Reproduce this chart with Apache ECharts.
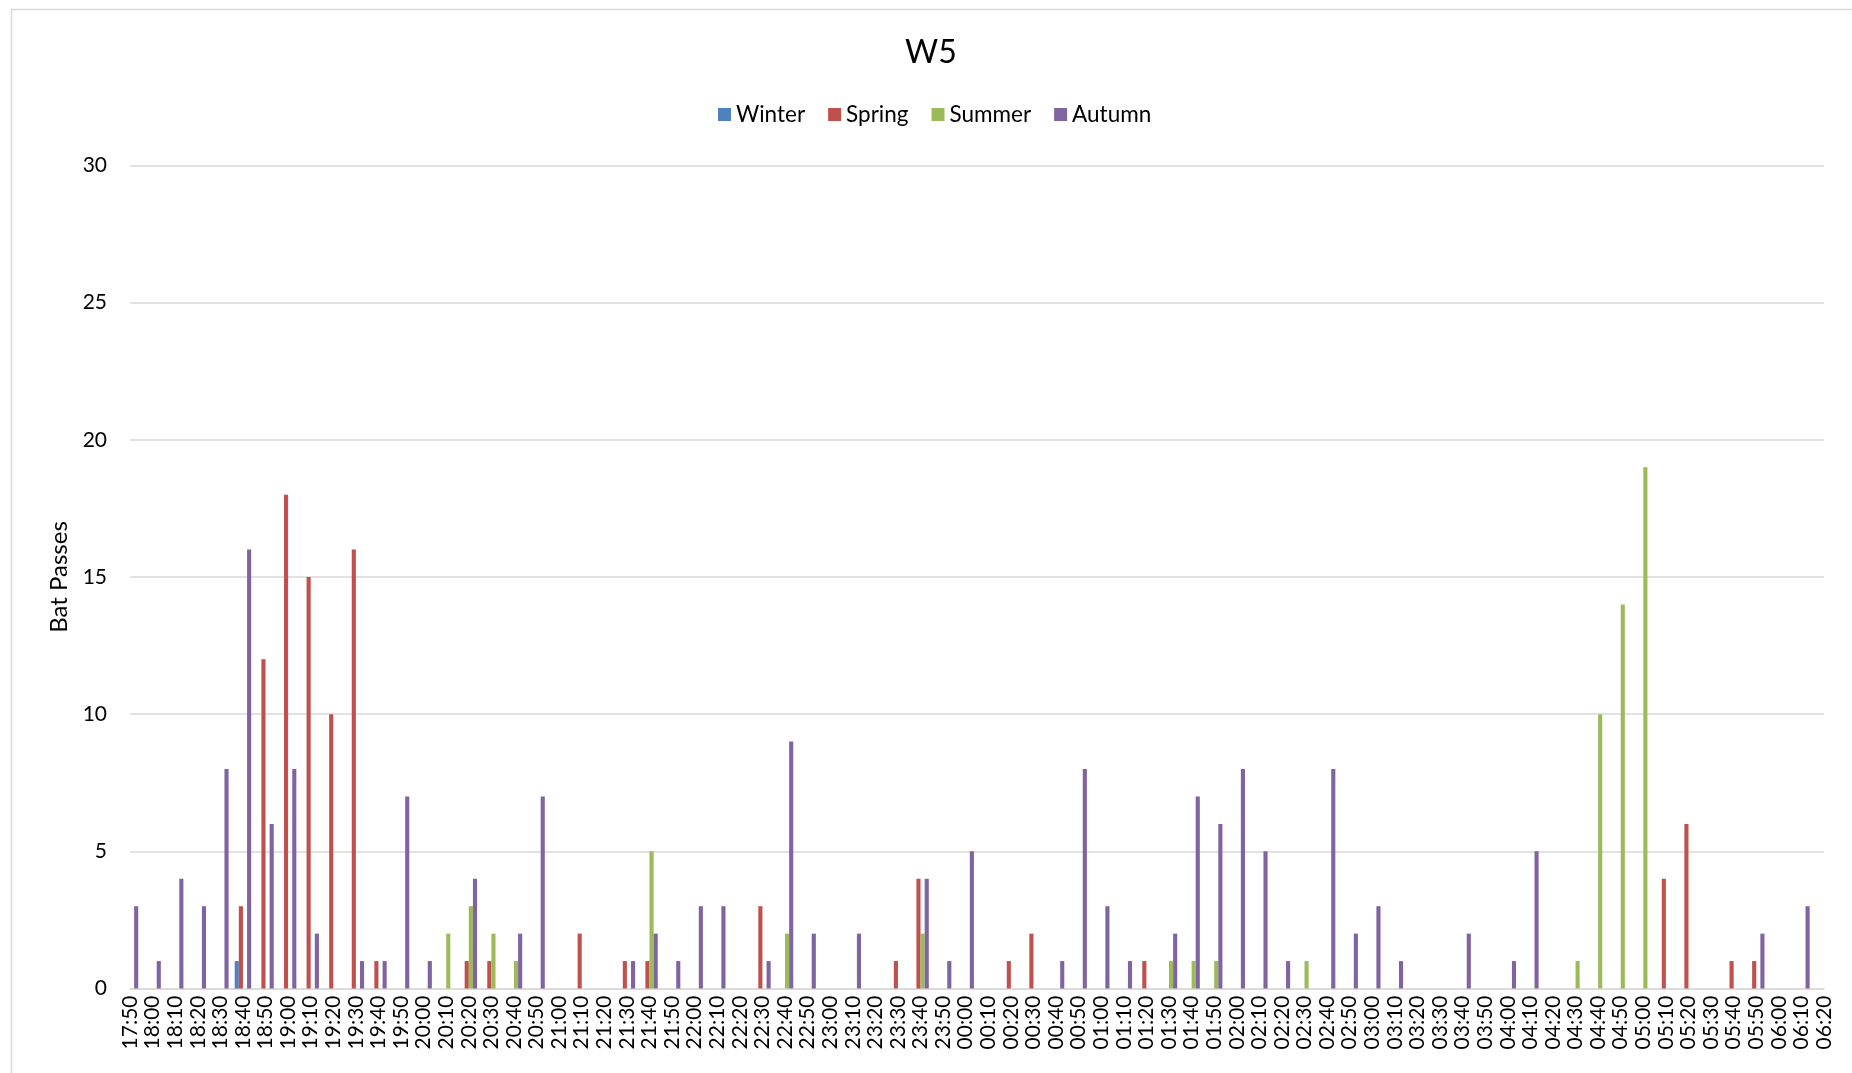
<!DOCTYPE html>
<html>
<head>
<meta charset="utf-8">
<script src="https://cdn.jsdelivr.net/npm/echarts@6/dist/echarts.min.js"></script>
<style>
html,body{margin:0;padding:0;background:#fff;}
#chart{width:1852px;height:1073px;}
</style>
</head>
<body>
<div id="chart"></div>
<script>
const categories = ["17:50","18:00","18:10","18:20","18:30","18:40","18:50","19:00","19:10","19:20",
"19:30","19:40","19:50","20:00","20:10","20:20","20:30","20:40","20:50","21:00",
"21:10","21:20","21:30","21:40","21:50","22:00","22:10","22:20","22:30","22:40",
"22:50","23:00","23:10","23:20","23:30","23:40","23:50","00:00","00:10","00:20",
"00:30","00:40","00:50","01:00","01:10","01:20","01:30","01:40","01:50","02:00",
"02:10","02:20","02:30","02:40","02:50","03:00","03:10","03:20","03:30","03:40",
"03:50","04:00","04:10","04:20","04:30","04:40","04:50","05:00","05:10","05:20",
"05:30","05:40","05:50","06:00","06:10","06:20"];

const winter = [0,0,0,0,0,1,0,0,0,0, 0,0,0,0,0,0,0,0,0,0, 0,0,0,0,0,0,0,0,0,0, 0,0,0,0,0,0,0,0,0,0,
0,0,0,0,0,0,0,0,0,0, 0,0,0,0,0,0,0,0,0,0, 0,0,0,0,0,0,0,0,0,0, 0,0,0,0,0,0];
const spring = [0,0,0,0,0,3,12,18,15,10, 16,1,0,0,0,1,1,0,0,0, 2,0,1,1,0,0,0,0,3,0, 0,0,0,0,1,4,0,0,0,1,
2,0,0,0,0,1,0,0,0,0, 0,0,0,0,0,0,0,0,0,0, 0,0,0,0,0,0,0,0,4,6, 0,1,1,0,0,0];
const summer = [0,0,0,0,0,0,0,0,0,0, 0,0,0,0,2,3,2,1,0,0, 0,0,0,5,0,0,0,0,0,2, 0,0,0,0,0,2,0,0,0,0,
0,0,0,0,0,0,1,1,1,0, 0,0,1,0,0,0,0,0,0,0, 0,0,0,0,1,10,14,19,0,0, 0,0,0,0,0,0];
const autumn = [3,1,4,3,8,16,6,8,2,0, 1,1,7,1,0,4,0,2,7,0, 0,0,1,2,1,3,3,0,1,9, 2,0,2,0,0,4,1,5,0,0,
0,1,8,3,1,0,2,7,6,8, 5,1,0,8,2,3,1,0,0,2, 0,1,5,0,0,0,0,0,0,0, 0,0,2,0,3,0];

const seriesNames = ["Winter","Spring","Summer","Autumn"];
const seriesColors = ["#4F81BD","#C0504D","#9BBB59","#8064A2"];
const seriesData = [winter, spring, summer, autumn];

const FONT = "Lato, 'Open Sans', sans-serif";
const chart = echarts.init(document.getElementById('chart'), null, {renderer:'canvas'});
chart.setOption({
  animation:false,
  backgroundColor:'#ffffff',
  graphic:[{
    type:'rect', left:9, top:7, z:-10,
    shape:{x:0,y:0,width:1900,height:1100},
    style:{fill:'none', stroke:'#d9d9d9', lineWidth:1.5}
  }],
  title:{
    text:'W5', left:900, top:32,
    textStyle:{fontFamily:FONT, fontSize:32, fontWeight:'normal', color:'#000'}
  },
  legend:{
    top:98, left:713,
    itemWidth:13, itemHeight:13, itemGap:23,
    icon:'rect',
    textStyle:{fontFamily:FONT, fontSize:22.5, color:'#000', padding:[0,0,0,0]},
    data:seriesNames
  },
  grid:{left:130, right:28, top:165.5, bottom:84.5, containLabel:false},
  xAxis:{
    type:'category', data:categories, boundaryGap:false,
    axisLine:{show:true, lineStyle:{color:'#d9d9d9', width:1.5}},
    axisTick:{show:false},
    axisLabel:{interval:0, rotate:90, margin:7, fontFamily:FONT, fontSize:21, color:'#000'},
    splitLine:{show:false}
  },
  yAxis:{
    type:'value', min:0, max:30, interval:5,
    name:'Bat Passes', nameLocation:'middle', nameGap:58,
    nameTextStyle:{fontFamily:FONT, fontSize:24, color:'#000'},
    axisLine:{show:false}, axisTick:{show:false},
    axisLabel:{margin:23, fontFamily:FONT, fontSize:21, color:'#000'},
    splitLine:{show:true, lineStyle:{color:'#d9d9d9', width:1.5}}
  },
  series: seriesData.map((d,i)=>({
    name:seriesNames[i], type:'bar', data:d,
    barGap:'0%', barCategoryGap:'27%',
    itemStyle:{color:seriesColors[i]},
    clip:false
  }))
});
</script>
</body>
</html>
